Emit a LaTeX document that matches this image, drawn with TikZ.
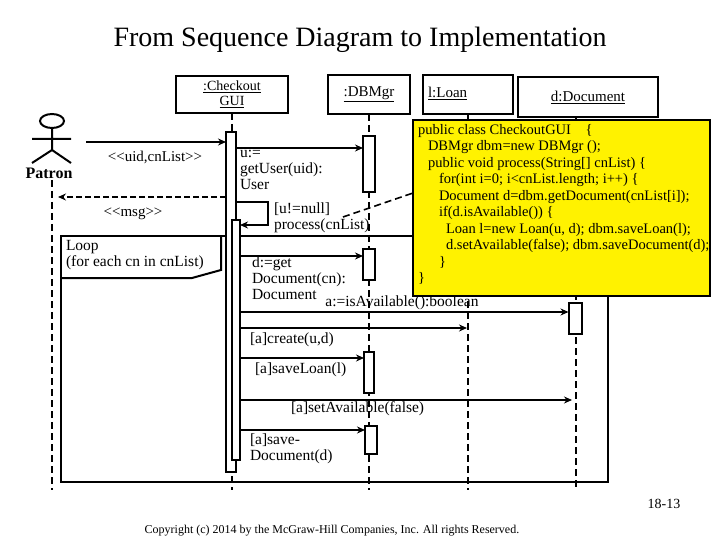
\documentclass[tikz,border=0pt]{standalone}
\usepackage{fontspec}
\setmainfont{Liberation Serif}
\usetikzlibrary{arrows.meta}
\tikzset{
  obj/.style={draw=black,line width=2pt,fill=white,inner sep=0pt},
  act/.style={draw=black,line width=2pt,fill=white,inner sep=0pt,minimum width=10pt},
  life/.style={draw=black,line width=2pt,dash pattern=on 7pt off 4pt},
  msg/.style={draw=black,line width=2pt,-{Stealth[length=8pt,width=7pt]}},
  lbl/.style={inner sep=0pt,anchor=north west,align=left,font=\fontsize{15.5}{16}\selectfont},
}
\begin{document}
\begin{tikzpicture}[x=1pt,y=1pt,yscale=-1,inner sep=0pt,outer sep=0pt]
\useasboundingbox (0,0) rectangle (720,540);
\node[font=\fontsize{28}{30}\selectfont] (title) at (360,40) {From Sequence Diagram to Implementation};
% lifelines
\draw[life] (52,180) -- (52,490);
\draw[life] (232,113) -- (232,490);
\draw[life] (369,114) -- (369,490);
\draw[life] (468,114) -- (468,490);
\draw[life] (576,117) -- (576,490);
% loop frame
\draw[line width=2pt] (61,236) rectangle (608,482);
\draw[line width=2pt] (221,236) -- (221,270) -- (192,278) -- (61,278);
\node[lbl] (looplbl) at (66,240) {Loop\\(for each cn in cnList)};
% objects
\node[obj,minimum width=112pt,minimum height=37pt,align=center,font=\fontsize{14}{15}\selectfont] (gui) at (232,94.5) {\underline{:Checkout}\\\underline{GUI}};
\node[obj,minimum width=82pt,minimum height=39pt,font=\fontsize{15}{15}\selectfont] (dbm) at (369,94.5) {\underline{:DBMgr}};
\node[obj,minimum width=90pt,minimum height=39pt,font=\fontsize{15}{15}\selectfont,text width=80pt,align=left] (loan) at (468,94.5) {\raisebox{4pt}{\underline{l:Loan}}};
\node[obj,minimum width=140pt,minimum height=40pt,font=\fontsize{15}{15}\selectfont] (doc) at (588,97) {\raisebox{-4pt}{\underline{d:Document}}};
% actor
\draw[line width=2pt] (52,121) ellipse (12pt and 7pt);
\draw[line width=2pt] (52,128) -- (52,150) (32,139) -- (71,139) (32,163) -- (52,150) -- (71,163);
\node[font=\bfseries\fontsize{16}{16}\selectfont] (patron) at (49,173) {Patron};
% activations
\node[act,minimum height=340pt,minimum width=10pt] (guiA) at (231,302) {};
\node[act,minimum height=240pt,minimum width=8pt] (guiB) at (236,340) {};
\node[act,minimum height=56pt,minimum width=12pt] (dbA) at (369,164) {};
\node[act,minimum height=31pt,minimum width=12pt] (dbB) at (369,264.5) {};
\node[act,minimum height=41pt,minimum width=10pt] (dbC) at (369,372.5) {};
\node[act,minimum height=28pt,minimum width=12pt] (dbD) at (371,440) {};
\node[act,minimum height=31pt,minimum width=13pt] (docA) at (575,318.5) {};
% message ends
\coordinate (p1) at (86,142);
\coordinate (p2) at (58,197);
\coordinate (s1) at (268,202);
\coordinate (s2) at (268,225);
\coordinate (ln1) at (467,328);
\coordinate (dc1) at (572,400);
% messages
\draw[msg] (p1) -- (guiA.west |- p1);
\draw[msg,dash pattern=on 6pt off 3pt] (guiA.west |- p2) -- (p2);
\node[font=\fontsize{15}{15}\selectfont] (m1) at (155,157) {{<}{<}uid,cnList{>}{>}};
\node[font=\fontsize{15}{15}\selectfont] (m2) at (133,214) {{<}{<}msg{>}{>}};
\draw[msg] (guiA.east |- 0,148) -- (dbA.west |- 0,148);
\node[lbl] (m3) at (240,150) {u:=\\getUser(uid):\\User};
\draw[msg] (guiA.east |- s1) -- (s1) -- (s2) -- (guiB.east |- s2);
\node[lbl] (m4) at (274,203) {[u!=null]\\process(cnList)};
\draw[msg] (guiB.east |- 0,256) -- (dbB.west |- 0,256);
\node[lbl] (m5) at (252,257) {d:=get\\Document(cn):\\Document};
\draw[msg] (guiB.east |- 0,312) -- (docA.west |- 0,312);
\node[lbl,anchor=south] (m6) at (402,310) {a:=isAvailable():boolean};
\draw[msg] (guiB.east |- ln1) -- (ln1);
\node[lbl] (m7) at (250,333) {[a]create(u,d)};
\draw[msg] (guiB.east |- 0,358) -- (dbC.west |- 0,358);
\node[lbl] (m8) at (255,363) {[a]saveLoan(l)};
\draw[msg] (guiB.east |- dc1) -- (dc1);
\node[lbl] (m9) at (291,402) {[a]setAvailable(false)};
\draw[msg] (guiB.east |- 0,430) -- (dbD.west |- 0,430);
\node[lbl] (m10) at (250,434) {[a]save-\\Document(d)};
% note
\node[draw=black,line width=2pt,fill=yellow,minimum width=297pt,minimum height=176pt,anchor=north west] (note) at (413,120) {};
\coordinate (nt) at (343,217);
\draw[life,line width=1.6pt] (nt) -- (note.west |- 0,193);
\node[inner sep=0pt,anchor=north west,align=left,font=\fontsize{14.5}{16.5}\selectfont] (code) at (418,124) {%
public class CheckoutGUI\quad\{\\
\hspace*{10pt}DBMgr dbm=new DBMgr ();\\
\hspace*{10pt}public void process(String[] cnList) \{\\
\hspace*{21pt}for(int i=0; i<cnList.length; i++) \{\\
\hspace*{21pt}Document d=dbm.getDocument(cnList[i]);\\
\hspace*{21pt}if(d.isAvailable()) \{\\
\hspace*{28pt}Loan l=new Loan(u, d); dbm.saveLoan(l);\\
\hspace*{28pt}d.setAvailable(false); dbm.saveDocument(d);\\
\hspace*{21pt}\}\\
\}};
% footer
\node[font=\fontsize{14}{15}\selectfont] (pg) at (664,504) {18-13};
\node[font=\fontsize{12}{12}\selectfont] (copy) at (332,531) {Copyright (c) 2014 by the McGraw-Hill Companies, Inc. All rights Reserved.};
\end{tikzpicture}
\end{document}
